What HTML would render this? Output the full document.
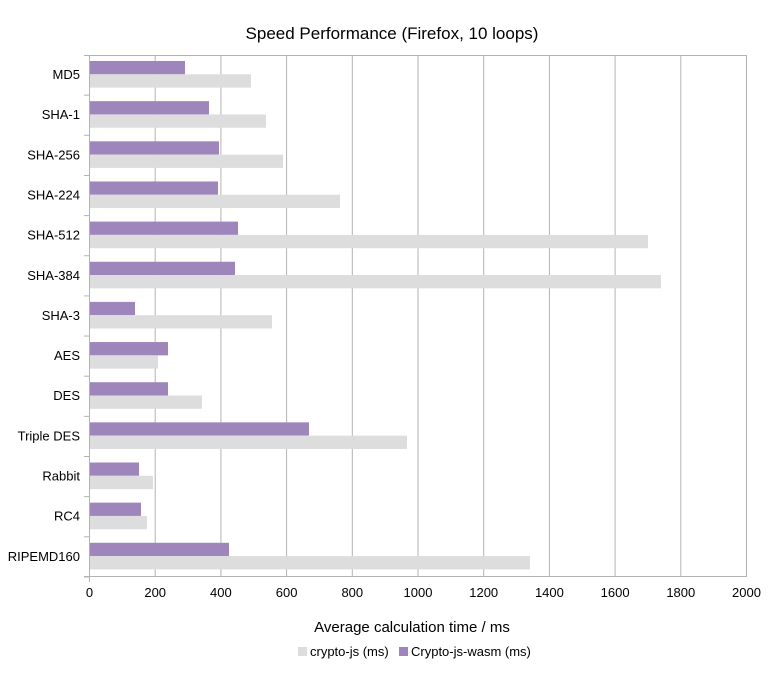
<!DOCTYPE html>
<html><head><meta charset="utf-8"><style>
body{margin:0;background:#fff;}
svg text{font-family:"Liberation Sans",sans-serif;fill:#000;}
</style></head><body>
<svg width="784" height="675" xmlns="http://www.w3.org/2000/svg">
<rect width="784" height="675" fill="#fff"/>
<text x="392" y="39" font-size="17" text-anchor="middle">Speed Performance (Firefox, 10 loops)</text>
<g stroke="#b3b3b3" stroke-width="1">
<line x1="89.5" y1="55.5" x2="746.5" y2="55.5"/>
<line x1="155.2" y1="55" x2="155.2" y2="577"/>
<line x1="220.9" y1="55" x2="220.9" y2="577"/>
<line x1="286.6" y1="55" x2="286.6" y2="577"/>
<line x1="352.3" y1="55" x2="352.3" y2="577"/>
<line x1="418" y1="55" x2="418" y2="577"/>
<line x1="483.7" y1="55" x2="483.7" y2="577"/>
<line x1="549.4" y1="55" x2="549.4" y2="577"/>
<line x1="615.1" y1="55" x2="615.1" y2="577"/>
<line x1="680.8" y1="55" x2="680.8" y2="577"/>
<line x1="746.5" y1="55" x2="746.5" y2="577"/>
</g>
<g id="bars"></g>
<g stroke="#b3b3b3" stroke-width="1" id="axes">
<line x1="89.5" y1="55" x2="89.5" y2="582"/>
<line x1="84" y1="576.5" x2="746.5" y2="576.5"/>
</g>
<g font-size="13" text-anchor="middle">
<text x="89.5" y="597">0</text><text x="155.2" y="597">200</text><text x="220.9" y="597">400</text><text x="286.6" y="597">600</text><text x="352.3" y="597">800</text><text x="418" y="597">1000</text><text x="483.7" y="597">1200</text><text x="549.4" y="597">1400</text><text x="615.1" y="597">1600</text><text x="680.8" y="597">1800</text><text x="746.5" y="597">2000</text>
</g>
<text x="412" y="632" font-size="15" text-anchor="middle">Average calculation time / ms</text>
<rect x="298" y="647" width="9" height="9" fill="#dddddd"/>
<text x="310" y="656" font-size="13">crypto-js (ms)</text>
<rect x="399" y="647" width="9" height="9" fill="#9e86bd"/>
<text x="411" y="656" font-size="13">Crypto-js-wasm (ms)</text>
<script>
var d=[["MD5",185,251],["SHA-1",209,266],["SHA-256",219,283],["SHA-224",218,340],["SHA-512",238,648],["SHA-384",235,661],["SHA-3",135,272],["AES",168,158],["DES",168,202],["Triple DES",309,407],["Rabbit",139,153],["RC4",141,147],["RIPEMD160",229,530]];
var ns="http://www.w3.org/2000/svg",g=document.getElementById("bars"),ax=document.getElementById("axes"),svg=document.querySelector("svg");
function el(n,a,p){var e=document.createElementNS(ns,n);for(var k in a)e.setAttribute(k,a[k]);p.appendChild(e);return e;}
var h=40.15;
d.forEach(function(r,i){var t=55+i*h;
el("rect",{x:89.5,y:t+6,width:r[1]-89.5,height:13.3,fill:"#9e86bd"},g);
el("rect",{x:89.5,y:t+19.3,width:r[2]-89.5,height:13.3,fill:"#dddddd"},g);
el("line",{x1:84,y1:t+h,x2:89.5,y2:t+h},ax);
if(i==0)el("line",{x1:84,y1:55.5,x2:89.5,y2:55.5},ax);
var tx=el("text",{x:80,y:t+24,"font-size":13,"text-anchor":"end"},svg);tx.textContent=r[0];});
</script>
</svg>
</body></html>
